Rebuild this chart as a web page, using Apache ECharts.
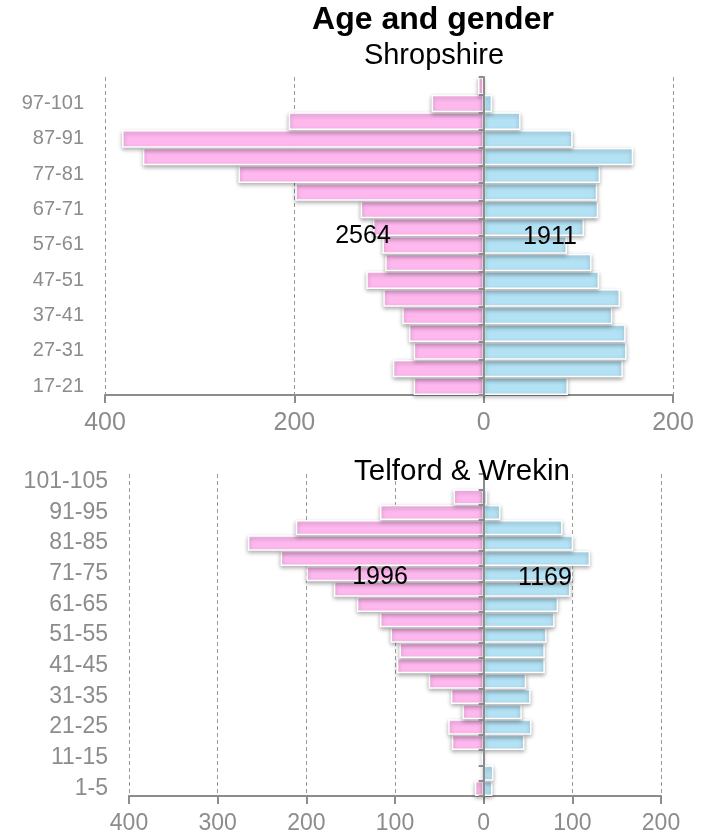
<!doctype html>
<html lang="en">
<head>
    <meta charset="utf-8">
    <title>Age and gender</title>
    <script src="https://cdn.jsdelivr.net/npm/echarts@6.0.0/dist/echarts.min.js"></script>
    <style>
        html, body { margin: 0; padding: 0; background: #fff; }
        #main { width: 701px; height: 837px; }
    </style>
</head>
<body>
    <div id="main"></div>
    <script type="text/javascript">
        // Shropshire, bottom band first
        var shropAges = ['17-21', '22-26', '27-31', '32-36', '37-41', '42-46', '47-51', '52-56', '57-61',
            '62-66', '67-71', '72-76', '77-81', '82-86', '87-91', '92-96', '97-101', '102-106'];
        var shropFemale = [74, 96, 74, 79, 86, 106, 124, 104, 107, 117, 130, 199, 259, 360, 382, 206, 55, 6];
        var shropMale = [89, 147, 151, 150, 136, 144, 122, 114, 88, 106, 121, 120, 123, 158, 94, 39, 9, 0];

        // Telford & Wrekin
        var telfAges = ['1-5', '6-10', '11-15', '16-20', '21-25', '26-30', '31-35', '36-40', '41-45', '46-50',
            '51-55', '56-60', '61-65', '66-70', '71-75', '76-80', '81-85', '86-90', '91-95', '96-100', '101-105'];
        var telfFemale = [10, 0, 2, 36, 40, 24, 37, 62, 98, 95, 105, 117, 143, 169, 200, 229, 266, 212, 117, 34, 0];
        var telfMale = [10, 11, 0, 46, 54, 43, 53, 48, 69, 69, 71, 80, 84, 98, 100, 120, 101, 89, 19, 4, 0];

        var PINK = '#feb8ee';
        var BLUE = '#b4e2f5';
        var GREY = '#8c8c8c';
        var FONT = 'Liberation Sans, Arial, sans-serif';

        function sum(arr) {
            return arr.reduce(function (a, b) { return a + b; }, 0);
        }
        function neg(arr) {
            return arr.map(function (v) { return v === 0 ? '-' : -v; });
        }
        function pos(arr) {
            return arr.map(function (v) { return v === 0 ? '-' : v; });
        }

        function valueAxis(grid, interval, fontSize) {
            return {
                gridIndex: grid,
                type: 'value',
                min: -400,
                max: 200,
                interval: interval,
                axisLine: { show: true, lineStyle: { color: GREY, width: 2 } },
                axisTick: { show: true, length: 8, lineStyle: { color: GREY, width: 2 } },
                axisLabel: {
                    color: GREY, fontSize: fontSize, fontFamily: FONT, margin: 16,
                    formatter: function (v) { return Math.abs(v); }
                },
                splitLine: { show: true, lineStyle: { color: '#999', type: [4, 3], width: 1 } }
            };
        }

        function zeroAxis(grid, ages) {
            return {
                gridIndex: grid,
                type: 'category',
                data: ages,
                axisLine: { show: true, onZero: true, lineStyle: { color: GREY, width: 2 } },
                axisTick: { show: true, interval: 0, length: 5, lineStyle: { color: GREY, width: 2 } },
                axisLabel: { show: false },
                splitLine: { show: false },
                z: 5
            };
        }

        function labelAxis(grid, ages, fontSize) {
            return {
                gridIndex: grid,
                type: 'category',
                position: 'left',
                data: ages,
                axisLine: { show: false, onZero: false },
                axisTick: { show: false },
                axisLabel: { interval: 1, color: GREY, fontSize: fontSize, fontFamily: FONT, margin: 21 },
                splitLine: { show: false }
            };
        }

        function barSeries(xi, yi, data, color) {
            return {
                type: 'bar',
                xAxisIndex: xi,
                yAxisIndex: yi,
                data: data,
                barCategoryGap: '0%',
                barGap: '-100%',
                silent: true,
                itemStyle: {
                    color: color,
                    borderColor: '#fff',
                    borderWidth: 1.5,
                    shadowColor: 'rgba(0,0,0,0.3)',
                    shadowBlur: 4,
                    shadowOffsetX: 0,
                    shadowOffsetY: 2
                }
            };
        }

        function text(str, x, y, size, weight) {
            return {
                type: 'text',
                x: x,
                y: y,
                z: 100,
                style: {
                    text: str,
                    fill: '#000',
                    font: (weight || 'normal') + ' ' + size + 'px ' + FONT,
                    textAlign: 'center',
                    textVerticalAlign: 'middle'
                }
            };
        }

        var chart = echarts.init(document.getElementById('main'), null, { renderer: 'canvas' });

        var option = {
            animation: false,
            backgroundColor: '#fff',
            grid: [
                { left: 105, right: 28, top: 77, bottom: 442 },
                { left: 129, right: 40, top: 474, bottom: 41 }
            ],
            xAxis: [
                valueAxis(0, 200, 25),
                valueAxis(1, 100, 23)
            ],
            yAxis: [
                zeroAxis(0, shropAges),
                labelAxis(0, shropAges, 20),
                zeroAxis(1, telfAges),
                labelAxis(1, telfAges, 23)
            ],
            series: [
                barSeries(0, 0, neg(shropFemale), PINK),
                barSeries(0, 0, pos(shropMale), BLUE),
                barSeries(1, 2, neg(telfFemale), PINK),
                barSeries(1, 2, pos(telfMale), BLUE)
            ],
            graphic: [
                text('Age and gender', 433, 20, 32, 'bold'),
                text('Shropshire', 434, 56, 29),
                text('Telford & Wrekin', 462, 472, 29.5),
                text(String(sum(shropFemale)), 363, 236, 25),
                text(String(sum(shropMale)), 550, 237, 25),
                text(String(sum(telfFemale)), 380, 577, 25),
                text(String(sum(telfMale)), 545, 578, 25)
            ]
        };

        chart.setOption(option);
    </script>
</body>
</html>
